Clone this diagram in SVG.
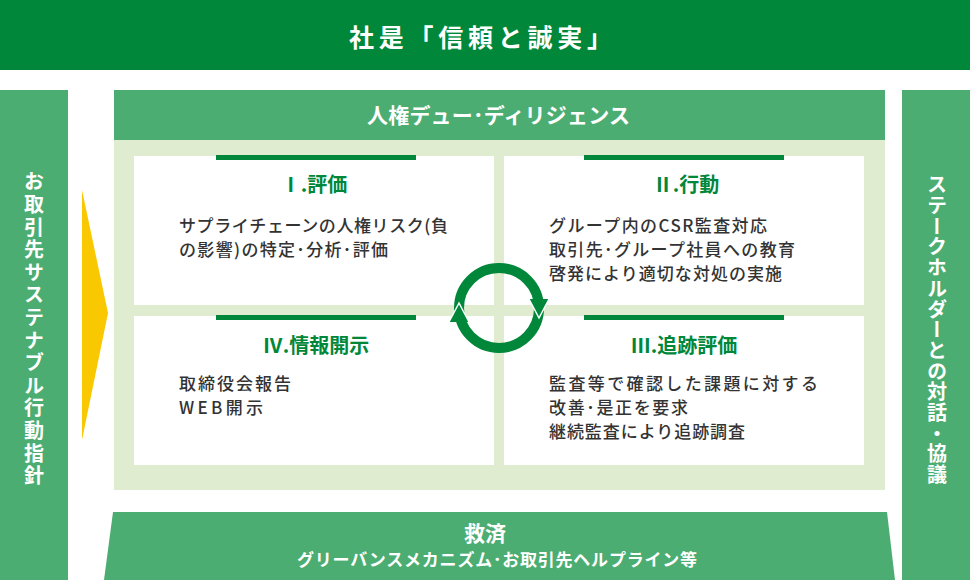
<svg xmlns="http://www.w3.org/2000/svg" width="970" height="580" viewBox="0 0 970 580">
<style>
.jp{font-family:"Noto Sans CJK JP","Noto Sans",sans-serif}
.wt{fill:#fff;font-weight:700}
.band{fill:#4cad72}
.box{fill:#fff}
.rule{fill:#00873a}
.ttl{fill:#00873a;font-weight:700;font-size:20px;text-anchor:middle}
.body{fill:#333;font-size:17px;font-weight:500}
.vt{writing-mode:vertical-rl;font-size:20px;text-anchor:middle}
</style>
<rect width="970" height="580" fill="#fff"/>
<g id="motto">
<rect x="0" y="0" width="970" height="70" fill="#00873a"/>
<text class="jp wt" x="349" y="47" font-size="25" textLength="263" lengthAdjust="spacing">社是「信頼と誠実」</text>
</g>
<g id="left-bar">
<rect class="band" x="0" y="90" width="68" height="490"/>
<text class="jp wt vt" x="34" y="330" letter-spacing="2.6">お取引先サステナブル行動指針</text>
</g>
<g id="right-bar">
<rect class="band" x="902" y="90" width="68" height="490"/>
<text class="jp wt vt" x="937" y="330" letter-spacing="0.7">ステークホルダーとの対話・協議</text>
</g>
<g id="input-arrow">
<polygon points="82,190 108,313 82,440" fill="#f9c800"/>
</g>
<g id="hrdd">
<rect x="114" y="140" width="771" height="350" fill="#dfeccf"/>
<rect class="band" x="114" y="90" width="771" height="50"/>
<text class="jp wt" x="367" y="123" font-size="21" textLength="263" lengthAdjust="spacing">人権デュー･ディリジェンス</text>
</g>
<g id="step1">
<rect class="box" x="134" y="156" width="360" height="149"/>
<rect class="rule" x="216" y="155" width="200" height="5"/>
<text class="jp ttl" x="314" y="192">Ⅰ.評価</text>
<text class="jp body" x="179" y="232" textLength="269" lengthAdjust="spacing">サプライチェーンの人権リスク(負</text>
<text class="jp body" x="179" y="256" textLength="209" lengthAdjust="spacing">の影響)の特定･分析･評価</text>
</g>
<g id="step2">
<rect class="box" x="504" y="156" width="360" height="149"/>
<rect class="rule" x="584" y="155" width="200" height="5"/>
<text class="jp ttl" x="686" y="192">Ⅱ.行動</text>
<text class="jp body" x="549" y="232" textLength="218" lengthAdjust="spacing">グループ内のCSR監査対応</text>
<text class="jp body" x="549" y="256" textLength="246" lengthAdjust="spacing">取引先･グループ社員への教育</text>
<text class="jp body" x="549" y="280" textLength="233" lengthAdjust="spacing">啓発により適切な対処の実施</text>
</g>
<g id="step4">
<rect class="box" x="134" y="316" width="360" height="149"/>
<rect class="rule" x="216" y="315" width="200" height="5"/>
<text class="jp ttl" x="316" y="353">Ⅳ.情報開示</text>
<text class="jp body" x="179" y="390" textLength="112" lengthAdjust="spacing">取締役会報告</text>
<text class="jp body" x="179" y="414" textLength="84" lengthAdjust="spacing">WEB開示</text>
</g>
<g id="step3">
<rect class="box" x="504" y="316" width="360" height="149"/>
<rect class="rule" x="584" y="315" width="200" height="5"/>
<text class="jp ttl" x="684" y="353">Ⅲ.追跡評価</text>
<text class="jp body" x="549" y="390" textLength="269" lengthAdjust="spacing">監査等で確認した課題に対する</text>
<text class="jp body" x="549" y="414" textLength="139" lengthAdjust="spacing">改善･是正を要求</text>
<text class="jp body" x="549" y="438" textLength="196" lengthAdjust="spacing">継続監査により追跡調査</text>
</g>
<g id="connectors">
<circle cx="499" cy="308" r="40" fill="none" stroke="#00873a" stroke-width="10"/>
<polygon points="529,299 549,299 539,318" fill="#00873a"/>
<polyline points="529,299 539,318 549,299" fill="none" stroke="#fff" stroke-width="1.5"/>
<polygon points="449,322 469,322 459,303" fill="#00873a"/>
<polyline points="449,322 459,303 469,322" fill="none" stroke="#fff" stroke-width="1.5"/>
</g>
<g id="remedy">
<polygon class="band" points="113,512 887,512 895,580 104,580"/>
<text class="jp wt" x="485" y="541" font-size="21" text-anchor="middle">救済</text>
<text class="jp wt" x="297" y="566" font-size="17" font-weight="500" textLength="400" lengthAdjust="spacing">グリーバンスメカニズム･お取引先ヘルプライン等</text>
</g>
</svg>
